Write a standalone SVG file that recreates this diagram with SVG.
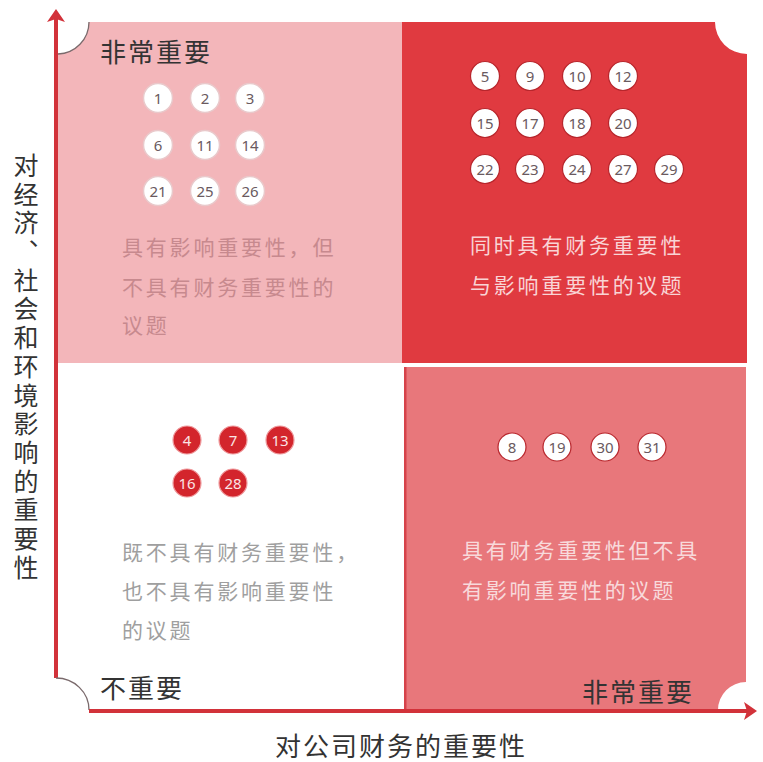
<svg xmlns="http://www.w3.org/2000/svg" width="763" height="762" viewBox="0 0 763 762">
<style>
.cjk{font-family:"Noto Sans CJK SC","Noto Sans",sans-serif}
.lbl{font-size:26px;fill:#333;letter-spacing:2px}
.desc{font-size:21px;letter-spacing:2.8px}
.num{font-family:"Noto Sans","Liberation Sans",sans-serif;font-size:15px;text-anchor:middle;dominant-baseline:central}
.cw{fill:#fff;stroke:#e9c9cb;stroke-width:1.5}
.cw2{fill:#fff;stroke:#b8262c;stroke-width:1.2}
.cr{fill:#d3252c;stroke:#ef9a9d;stroke-width:1.2}
.nd{fill:#6a5a60}
.nw{fill:#fbe4e4}
.axis{stroke:#d2323a;stroke-width:4;fill:none}
.cut{fill:none;stroke:#7a6a6c;stroke-width:1.3}
.ylab{font-size:25px;fill:#333;writing-mode:vertical-rl;letter-spacing:3.7px}
</style>
<defs>
<marker id="arr" markerUnits="userSpaceOnUse" markerWidth="14" markerHeight="18" refX="9" refY="9" orient="auto">
<path d="M0,0 L13,9 L0,18 L3,9 Z" fill="#d2323a"/>
</marker>
</defs>
<rect width="763" height="762" fill="#fff"/>

<g id="q-tl">
<path d="M89,22 H402 V363 H57 V54 A32 32 0 0 0 89 22 Z" fill="#f3b6ba"/>
<path class="cut" d="M58,54 A32 32 0 0 0 89 22"/>
<text class="cjk lbl" x="100" y="62">非常重要</text>
<circle class="cw" cx="158" cy="98" r="14.5"/><text class="num nd" x="158" y="98">1</text>
<circle class="cw" cx="205" cy="98" r="14.5"/><text class="num nd" x="205" y="98">2</text>
<circle class="cw" cx="250" cy="98" r="14.5"/><text class="num nd" x="250" y="98">3</text>
<circle class="cw" cx="158" cy="145" r="14.5"/><text class="num nd" x="158" y="145">6</text>
<circle class="cw" cx="205" cy="145" r="14.5"/><text class="num nd" x="205" y="145">11</text>
<circle class="cw" cx="250" cy="145" r="14.5"/><text class="num nd" x="250" y="145">14</text>
<circle class="cw" cx="158" cy="191" r="14.5"/><text class="num nd" x="158" y="191">21</text>
<circle class="cw" cx="205" cy="191" r="14.5"/><text class="num nd" x="205" y="191">25</text>
<circle class="cw" cx="250" cy="191" r="14.5"/><text class="num nd" x="250" y="191">26</text>
<text class="cjk desc" fill="#c7898e"><tspan x="122" y="255">具有影响重要性，但</tspan><tspan x="122" y="295">不具有财务重要性的</tspan><tspan x="122" y="333">议题</tspan></text>
</g>

<g id="q-tr">
<path d="M402,22 H715 A32 32 0 0 0 747 54 V363 H402 Z" fill="#e03a40"/>
<circle class="cw2" cx="485" cy="76" r="14.5"/><text class="num nd" x="485" y="76">5</text>
<circle class="cw2" cx="530" cy="76" r="14.5"/><text class="num nd" x="530" y="76">9</text>
<circle class="cw2" cx="577" cy="76" r="14.5"/><text class="num nd" x="577" y="76">10</text>
<circle class="cw2" cx="623" cy="76" r="14.5"/><text class="num nd" x="623" y="76">12</text>
<circle class="cw2" cx="485" cy="123" r="14.5"/><text class="num nd" x="485" y="123">15</text>
<circle class="cw2" cx="530" cy="123" r="14.5"/><text class="num nd" x="530" y="123">17</text>
<circle class="cw2" cx="577" cy="123" r="14.5"/><text class="num nd" x="577" y="123">18</text>
<circle class="cw2" cx="623" cy="123" r="14.5"/><text class="num nd" x="623" y="123">20</text>
<circle class="cw2" cx="485" cy="169" r="14.5"/><text class="num nd" x="485" y="169">22</text>
<circle class="cw2" cx="530" cy="169" r="14.5"/><text class="num nd" x="530" y="169">23</text>
<circle class="cw2" cx="577" cy="169" r="14.5"/><text class="num nd" x="577" y="169">24</text>
<circle class="cw2" cx="623" cy="169" r="14.5"/><text class="num nd" x="623" y="169">27</text>
<circle class="cw2" cx="669" cy="169" r="14.5"/><text class="num nd" x="669" y="169">29</text>
<text class="cjk desc" fill="#f9d4d5"><tspan x="470" y="253">同时具有财务重要性</tspan><tspan x="470" y="293">与影响重要性的议题</tspan></text>
</g>

<g id="q-bl">
<circle class="cr" cx="187" cy="440" r="14"/><text class="num nw" x="187" y="440">4</text>
<circle class="cr" cx="233" cy="440" r="14"/><text class="num nw" x="233" y="440">7</text>
<circle class="cr" cx="280" cy="440" r="14"/><text class="num nw" x="280" y="440">13</text>
<circle class="cr" cx="187" cy="483" r="14"/><text class="num nw" x="187" y="483">16</text>
<circle class="cr" cx="233" cy="483" r="14"/><text class="num nw" x="233" y="483">28</text>
<text class="cjk desc" fill="#9f9f9f"><tspan x="122" y="560">既不具有财务重要性，</tspan><tspan x="122" y="599">也不具有影响重要性</tspan><tspan x="122" y="638">的议题</tspan></text>
<text class="cjk lbl" x="100" y="698">不重要</text>
</g>

<g id="q-br">
<path d="M404,367 H746 V682 A28 28 0 0 0 718 710 H404 Z" fill="#e8777b"/>
<rect x="404" y="367" width="2.5" height="343" fill="#d6424a"/>
<circle class="cw2" cx="512" cy="447" r="14"/><text class="num nd" x="512" y="447">8</text>
<circle class="cw2" cx="557" cy="447" r="14"/><text class="num nd" x="557" y="447">19</text>
<circle class="cw2" cx="605" cy="447" r="14"/><text class="num nd" x="605" y="447">30</text>
<circle class="cw2" cx="652" cy="447" r="14"/><text class="num nd" x="652" y="447">31</text>
<text class="cjk desc" fill="#f8dadb"><tspan x="462" y="558">具有财务重要性但不具</tspan><tspan x="462" y="598">有影响重要性的议题</tspan></text>
<text class="cjk lbl" x="582" y="702">非常重要</text>
</g>

<g id="axes">
<line class="axis" x1="56" y1="678" x2="56" y2="13" marker-end="url(#arr)"/>
<path class="cut" d="M56,678 A33 32 0 0 1 89 710"/>
<line class="axis" x1="89" y1="711" x2="753" y2="711" marker-end="url(#arr)"/>
</g>

<g id="axis-labels">
<text class="cjk lbl" x="275" y="756">对公司财务的重要性</text>
<text class="cjk ylab" x="26" y="153">对经济、社会和环境影响的重要性</text>
</g>
</svg>
